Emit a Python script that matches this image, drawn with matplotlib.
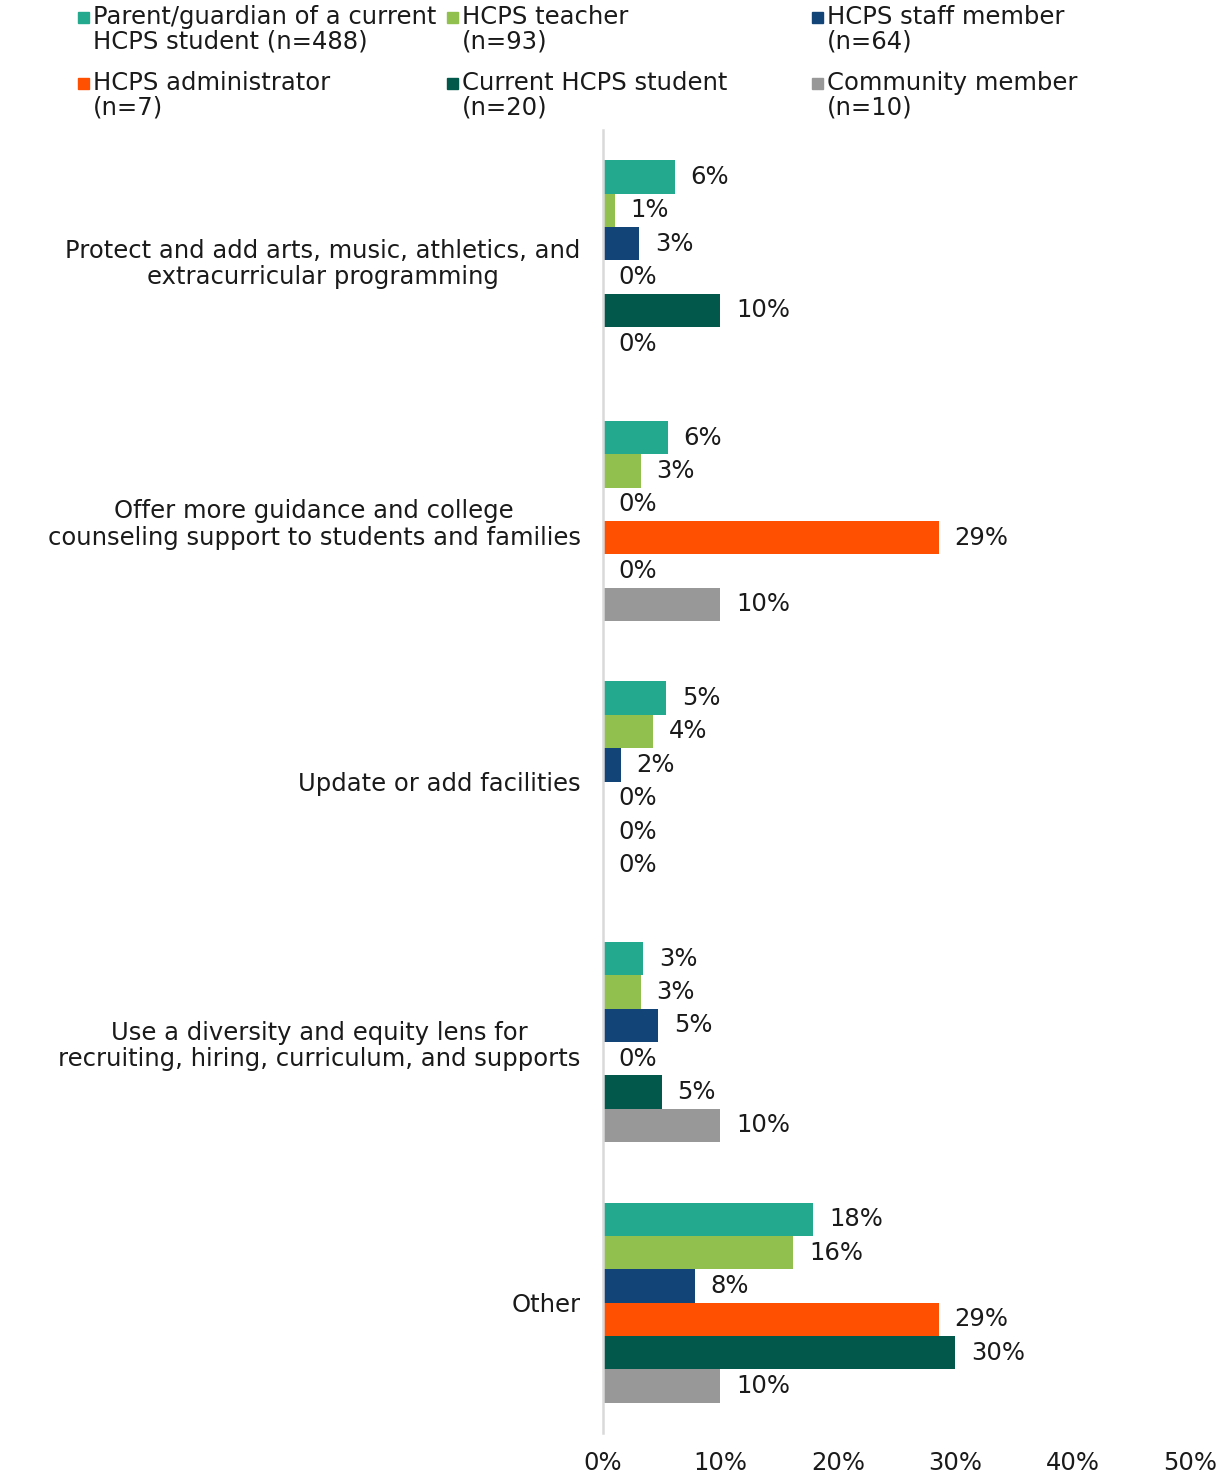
import matplotlib
matplotlib.use("Agg")
import matplotlib.pyplot as plt
from matplotlib.patches import Rectangle
import numpy as np

plt.rcParams['font.family'] = ['DejaVu Sans']

categories = [
    "Protect and add arts, music, athletics, and\nextracurricular programming",
    "Offer more guidance and college\ncounseling support to students and families",
    "Update or add facilities",
    "Use a diversity and equity lens for\nrecruiting, hiring, curriculum, and supports",
    "Other",
]
series_names = [
    "Parent/guardian of a current\nHCPS student (n=488)",
    "HCPS teacher\n(n=93)",
    "HCPS staff member\n(n=64)",
    "HCPS administrator\n(n=7)",
    "Current HCPS student\n(n=20)",
    "Community member\n(n=10)",
]
colors = ["#23A98E", "#92C04E", "#134478", "#FF4F00", "#02594B", "#989898"]

parent = [6.1, 5.5, 5.4, 3.4, 17.9]
teacher = [1.0, 3.2, 4.3, 3.2, 16.2]
staff = [3.1, 0.0, 1.5, 4.7, 7.8]
admin = [0.0, 28.6, 0.0, 0.0, 28.6]
student = [10.0, 0.0, 0.0, 5.0, 30.0]
community = [0.0, 10.0, 0.0, 10.0, 10.0]
series = [parent, teacher, staff, admin, student, community]

xticks = [0, 10, 20, 30, 40, 50]
xticklabels = ["0%", "10%", "20%", "30%", "40%", "50%"]

W, H = 1225, 1480
fig = plt.figure(figsize=(W / 100, H / 100), dpi=100)
ax = fig.add_axes([603 / W, 47 / H, (1190 - 603) / W, (1433 - 130) / H])

fs = 17.5
tc = '#1a1a1a'
h = 0.128
y = np.arange(len(categories))
for i, (vals, c) in enumerate(zip(series, colors)):
    pos = y + (i - 2.5) * h
    ax.barh(pos, vals, height=h, color=c, edgecolor='none', zorder=2)
    for p, v in zip(pos, vals):
        ax.text(v + 1.35, p, f"{round(v):.0f}%", va='center', ha='left', fontsize=fs, color=tc)

ax.set_ylim(len(categories) - 0.5, -0.5)
ax.set_xlim(0, 50)
ax.set_yticks(y)
ax.set_yticklabels(categories, fontsize=fs, multialignment='center', color=tc, linespacing=1.12)
ax.set_xticks(xticks)
ax.set_xticklabels(xticklabels, fontsize=fs, color=tc)
ax.tick_params(axis='both', length=0)
ax.tick_params(axis='y', pad=16)
ax.tick_params(axis='x', pad=13)
for s in ['top', 'right', 'bottom']:
    ax.spines[s].set_visible(False)
ax.spines['left'].set_color('#d9d9d9')
ax.spines['left'].set_linewidth(1.8)

# legend (manual, 3 columns x 2 rows)
col_x = [78, 447, 812]
row_y = [17, 83]
sq = 11
for k, (name, c) in enumerate(zip(series_names, colors)):
    cx = col_x[k % 3]
    ry = row_y[k // 3]
    fig.patches.append(Rectangle((cx / W, 1 - (ry + sq / 2) / H), sq / W, sq / H,
                                 transform=fig.transFigure, color=c, figure=fig))
    fig.text((cx + 15) / W, 1 - (ry - 12) / H, name, ha='left', va='top',
             fontsize=fs, linespacing=1.02, color=tc)

fig.savefig("out.png", dpi=100)
